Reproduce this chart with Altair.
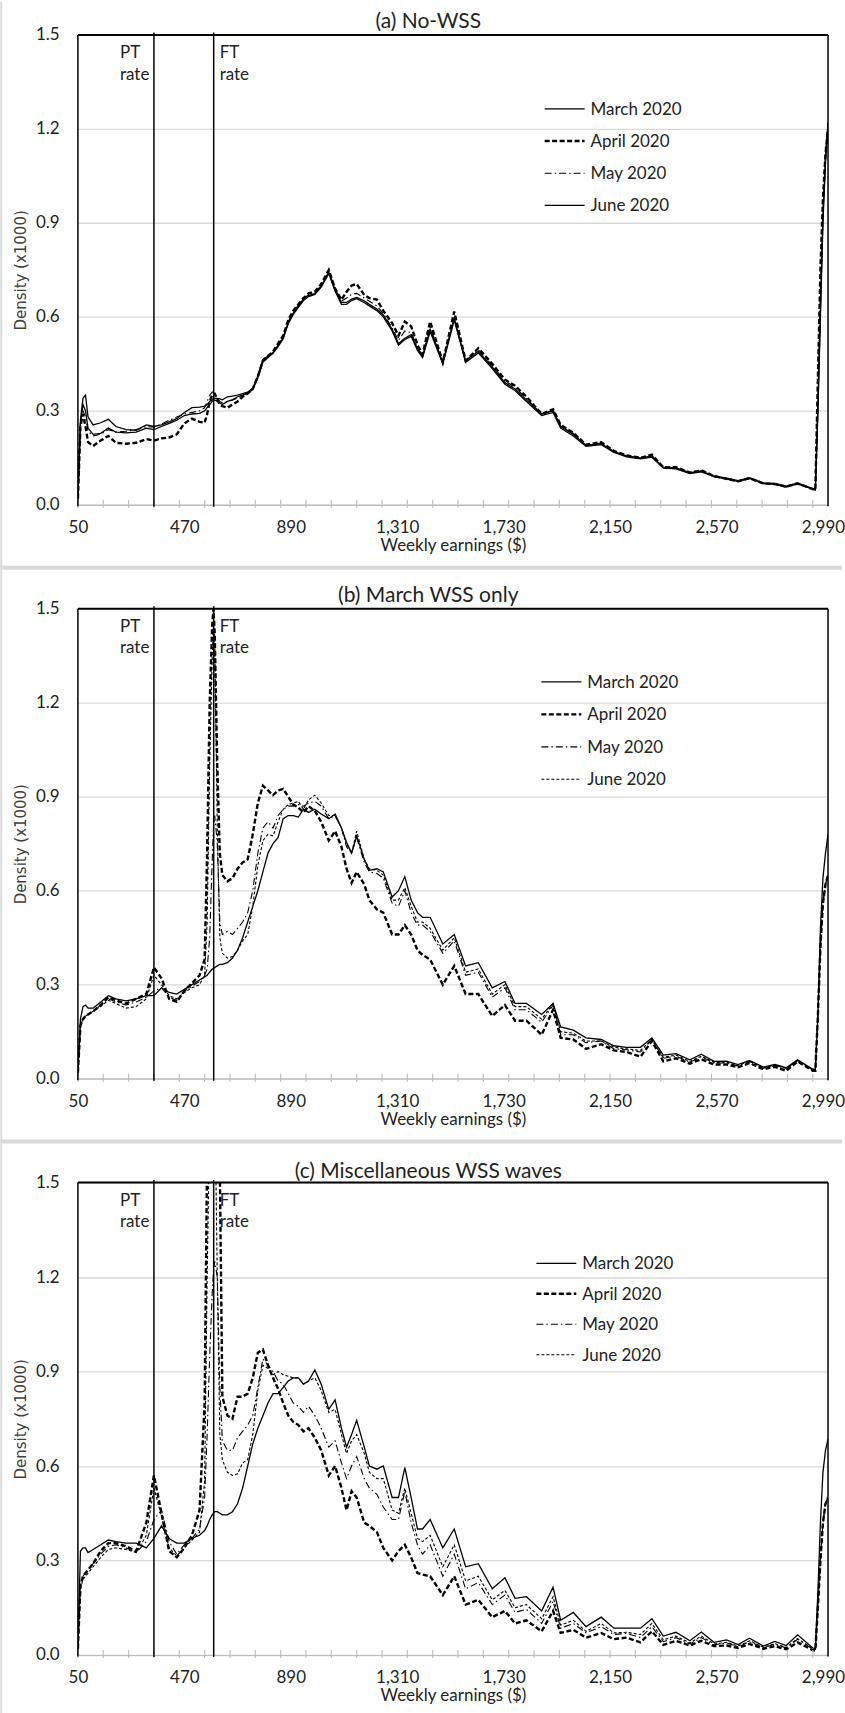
import altair as alt
import pandas as pd

# ---------------- data ----------------
SERIES = ["March 2020", "April 2020", "May 2020", "June 2020"]
PANEL_TITLES = ["(a) No-WSS", "(b) March WSS only", "(c) Miscellaneous WSS waves"]

EARN = [50, 60, 70, 80, 90, 110, 140, 170, 200, 240,
        280, 320, 350, 380, 410, 440, 470, 500, 530, 550,
        560, 570, 580, 585, 590, 600, 610, 620, 640, 660, 680,
        700, 720, 740, 760, 780, 800, 820, 840, 860, 880,
        900, 920, 940, 960, 985, 1010, 1040, 1065, 1090, 1110,
        1130, 1150, 1180, 1200, 1230, 1255, 1290, 1315, 1340, 1365,
        1390, 1410, 1440, 1490, 1535, 1580, 1630, 1685, 1735, 1775,
        1820, 1880, 1925, 1955, 2005, 2055, 2115, 2165, 2215, 2270,
        2315, 2360, 2410, 2465, 2510, 2560, 2610, 2655, 2700, 2755,
        2800, 2845, 2890, 2950, 2960, 2970, 2980, 2990, 3000, 3010]

# Panel (a) No-WSS
A_MAR = [0.02, 0.27, 0.34, 0.35, 0.28, 0.255, 0.262, 0.273, 0.25, 0.24,
         0.238, 0.255, 0.25, 0.255, 0.265, 0.275, 0.295, 0.31, 0.312, 0.315,
         0.32, 0.33, 0.335, 0.34, 0.34, 0.34, 0.338, 0.335, 0.345, 0.347, 0.35,
         0.355, 0.36, 0.372, 0.412, 0.464, 0.475, 0.486, 0.509, 0.532, 0.583,
         0.612, 0.634, 0.657, 0.668, 0.674, 0.697, 0.742, 0.686, 0.646, 0.646,
         0.657, 0.662, 0.651, 0.64, 0.625, 0.606, 0.56, 0.515, 0.532, 0.543,
         0.498, 0.475, 0.56, 0.455, 0.595, 0.46, 0.49, 0.44, 0.39, 0.37,
         0.335, 0.29, 0.3, 0.25, 0.225, 0.19, 0.195, 0.17, 0.156, 0.15,
         0.155, 0.12, 0.118, 0.103, 0.108, 0.092, 0.085, 0.077, 0.087, 0.07,
         0.068, 0.06, 0.07, 0.052, 0.05, 0.3, 0.6, 0.9, 1.1, 1.22]
A_APR = [0.02, 0.25, 0.29, 0.25, 0.2, 0.188, 0.205, 0.22, 0.198, 0.195,
         0.198, 0.21, 0.205, 0.212, 0.215, 0.225, 0.26, 0.275, 0.265, 0.262,
         0.29, 0.33, 0.35, 0.355, 0.355, 0.335, 0.32, 0.315, 0.31, 0.32, 0.33,
         0.345, 0.355, 0.37, 0.41, 0.46, 0.475, 0.49, 0.515, 0.54, 0.59,
         0.62, 0.64, 0.66, 0.675, 0.68, 0.705, 0.75, 0.69, 0.655, 0.68,
         0.7, 0.705, 0.67, 0.66, 0.655, 0.62, 0.58, 0.54, 0.585, 0.57,
         0.51, 0.48, 0.585, 0.455, 0.617, 0.46, 0.5, 0.45, 0.4, 0.38,
         0.345, 0.29, 0.305, 0.255, 0.23, 0.192, 0.2, 0.172, 0.158, 0.15,
         0.16, 0.12, 0.12, 0.103, 0.11, 0.092, 0.083, 0.075, 0.085, 0.068,
         0.066, 0.058, 0.068, 0.05, 0.048, 0.4, 0.75, 0.98, 1.12, 1.2]
A_MAY = [0.02, 0.26, 0.3, 0.28, 0.235, 0.22, 0.225, 0.24, 0.232, 0.235,
         0.24, 0.25, 0.248, 0.258, 0.27, 0.28, 0.29, 0.295, 0.3, 0.31,
         0.33, 0.35, 0.36, 0.36, 0.355, 0.34, 0.33, 0.325, 0.33, 0.335, 0.34,
         0.35, 0.358, 0.37, 0.405, 0.46, 0.472, 0.485, 0.51, 0.535, 0.585,
         0.615, 0.638, 0.66, 0.67, 0.678, 0.7, 0.745, 0.69, 0.65, 0.66,
         0.672, 0.675, 0.66, 0.65, 0.635, 0.61, 0.565, 0.525, 0.555, 0.55,
         0.5, 0.478, 0.57, 0.452, 0.6, 0.46, 0.495, 0.445, 0.395, 0.375,
         0.34, 0.29, 0.302, 0.252, 0.228, 0.19, 0.198, 0.17, 0.156, 0.148,
         0.158, 0.118, 0.118, 0.1, 0.108, 0.09, 0.083, 0.075, 0.085, 0.068,
         0.066, 0.058, 0.068, 0.05, 0.048, 0.35, 0.7, 0.95, 1.12, 1.21]
A_JUN = [0.02, 0.26, 0.32, 0.3, 0.245, 0.225, 0.228, 0.245, 0.232, 0.23,
         0.232, 0.245, 0.24, 0.25, 0.26, 0.27, 0.285, 0.29, 0.292, 0.3,
         0.31, 0.32, 0.33, 0.333, 0.335, 0.33, 0.325, 0.32, 0.33, 0.335, 0.345,
         0.35, 0.356, 0.368, 0.405, 0.455, 0.47, 0.484, 0.505, 0.53, 0.578,
         0.608, 0.63, 0.652, 0.665, 0.672, 0.695, 0.738, 0.682, 0.64, 0.64,
         0.652, 0.658, 0.645, 0.635, 0.62, 0.6, 0.555, 0.51, 0.528, 0.538,
         0.493, 0.47, 0.553, 0.45, 0.59, 0.455, 0.485, 0.435, 0.385, 0.365,
         0.33, 0.285, 0.295, 0.245, 0.22, 0.187, 0.192, 0.167, 0.153, 0.147,
         0.152, 0.117, 0.115, 0.1, 0.105, 0.09, 0.082, 0.075, 0.084, 0.068,
         0.066, 0.057, 0.067, 0.05, 0.047, 0.3, 0.62, 0.92, 1.1, 1.22]

# Panel (b) March WSS only
B_MAR = [0.02, 0.19, 0.23, 0.235, 0.225, 0.225, 0.245, 0.265, 0.255, 0.248,
         0.255, 0.265, 0.265, 0.29, 0.275, 0.27, 0.285, 0.3, 0.315, 0.325,
         0.33, 0.34, 0.35, 0.352, 0.355, 0.36, 0.365, 0.365, 0.37, 0.385, 0.41,
         0.45, 0.5, 0.55, 0.6, 0.66, 0.72, 0.75, 0.77, 0.83, 0.84,
         0.84, 0.835, 0.86, 0.85, 0.86, 0.845, 0.83, 0.845, 0.8, 0.755,
         0.72, 0.775, 0.7, 0.665, 0.67, 0.66, 0.58, 0.6, 0.645, 0.57,
         0.53, 0.515, 0.515, 0.43, 0.46, 0.36, 0.37, 0.29, 0.31, 0.24,
         0.24, 0.205, 0.24, 0.165, 0.155, 0.13, 0.125, 0.105, 0.1, 0.1,
         0.13, 0.075, 0.08, 0.06, 0.078, 0.055, 0.056, 0.045, 0.058, 0.037,
         0.045, 0.035, 0.06, 0.03, 0.03, 0.2, 0.48, 0.64, 0.72, 0.78]
B_APR = [0.02, 0.17, 0.19, 0.2, 0.205, 0.215, 0.235, 0.26, 0.25, 0.24,
         0.255, 0.27, 0.355, 0.32, 0.255, 0.245, 0.28, 0.305, 0.33, 0.38,
         0.72, 1.2, 1.45, 1.5, 1.42, 1.0, 0.72, 0.65, 0.63, 0.64, 0.67,
         0.69, 0.7, 0.78, 0.88, 0.935, 0.92, 0.905, 0.92, 0.925, 0.9,
         0.875, 0.865, 0.85, 0.87, 0.855, 0.82, 0.76, 0.79, 0.74, 0.67,
         0.625, 0.66, 0.62, 0.57, 0.54, 0.53, 0.46, 0.46, 0.49, 0.46,
         0.41, 0.395, 0.38, 0.3, 0.36, 0.27, 0.27, 0.2, 0.235, 0.185,
         0.185, 0.14, 0.22, 0.13, 0.125, 0.095, 0.11, 0.09, 0.085, 0.07,
         0.12, 0.055, 0.065, 0.048, 0.062, 0.045, 0.045, 0.036, 0.05, 0.03,
         0.038, 0.025, 0.055, 0.025, 0.025, 0.2, 0.42, 0.56, 0.62, 0.65]
B_MAY = [0.02, 0.17, 0.19, 0.2, 0.205, 0.215, 0.235, 0.255, 0.245, 0.235,
         0.245, 0.26, 0.28, 0.29, 0.26, 0.25, 0.28, 0.295, 0.31, 0.33,
         0.35, 0.45, 0.7, 0.8, 0.84, 0.75, 0.5, 0.46, 0.47, 0.46, 0.48,
         0.5, 0.53, 0.6, 0.72, 0.8, 0.82, 0.8, 0.84, 0.86, 0.87,
         0.87, 0.875, 0.87, 0.88, 0.885, 0.87, 0.83, 0.84, 0.8, 0.74,
         0.72, 0.77, 0.69, 0.66, 0.655, 0.64, 0.56, 0.55, 0.6, 0.53,
         0.49, 0.49, 0.47, 0.4, 0.44, 0.33, 0.34, 0.26, 0.29, 0.22,
         0.22, 0.18, 0.235, 0.14, 0.14, 0.115, 0.12, 0.095, 0.092, 0.085,
         0.125, 0.065, 0.072, 0.052, 0.07, 0.05, 0.05, 0.04, 0.055, 0.033,
         0.042, 0.03, 0.058, 0.028, 0.028, 0.2, 0.42, 0.56, 0.62, 0.65]
B_JUN = [0.02, 0.17, 0.19, 0.2, 0.205, 0.215, 0.23, 0.25, 0.24, 0.225,
         0.23, 0.255, 0.33, 0.3, 0.265, 0.255, 0.275, 0.29, 0.3, 0.33,
         0.5, 1.0, 1.35, 1.45, 1.4, 0.8, 0.45, 0.4, 0.385, 0.39, 0.41,
         0.44, 0.46, 0.55, 0.68, 0.76, 0.78, 0.775, 0.82, 0.86, 0.875,
         0.88, 0.885, 0.86, 0.89, 0.905, 0.88, 0.84, 0.84, 0.8, 0.75,
         0.72, 0.79, 0.7, 0.67, 0.665, 0.65, 0.57, 0.57, 0.61, 0.55,
         0.5, 0.5, 0.48, 0.41, 0.45, 0.34, 0.35, 0.27, 0.3, 0.23,
         0.23, 0.19, 0.24, 0.15, 0.145, 0.12, 0.12, 0.1, 0.095, 0.09,
         0.125, 0.068, 0.075, 0.055, 0.072, 0.052, 0.052, 0.042, 0.056, 0.035,
         0.043, 0.032, 0.058, 0.028, 0.028, 0.2, 0.42, 0.56, 0.62, 0.65]

# Panel (c) Miscellaneous WSS waves
C_MAR = [0.02, 0.33, 0.34, 0.34, 0.325, 0.335, 0.35, 0.365, 0.36, 0.355,
         0.355, 0.34, 0.37, 0.41, 0.37, 0.355, 0.355, 0.37, 0.38, 0.395,
         0.41, 0.43, 0.445, 0.45, 0.455, 0.455, 0.45, 0.445, 0.445, 0.455, 0.48,
         0.53, 0.6, 0.67, 0.72, 0.76, 0.8, 0.83, 0.83, 0.85, 0.87,
         0.88, 0.88, 0.86, 0.87, 0.905, 0.86, 0.78, 0.81, 0.72, 0.66,
         0.7, 0.745, 0.66, 0.6, 0.59, 0.6, 0.5, 0.5, 0.595, 0.5,
         0.4, 0.4, 0.43, 0.34, 0.4, 0.28, 0.29, 0.21, 0.245, 0.18,
         0.185, 0.14, 0.215, 0.11, 0.135, 0.09, 0.12, 0.085, 0.085, 0.085,
         0.115, 0.06, 0.072, 0.045, 0.073, 0.04, 0.048, 0.033, 0.053, 0.028,
         0.043, 0.03, 0.064, 0.022, 0.02, 0.2, 0.42, 0.58, 0.65, 0.685]
C_APR = [0.02, 0.22, 0.25, 0.26, 0.27, 0.29, 0.33, 0.355, 0.355, 0.345,
         0.33, 0.42, 0.57, 0.45, 0.33, 0.31, 0.34, 0.38, 0.46, 0.8,
         1.6, 2.0, 2.2, 2.2, 2.1, 2.0, 1.55, 0.82, 0.76, 0.75, 0.82,
         0.82, 0.83, 0.88, 0.96, 0.97, 0.92, 0.88, 0.845, 0.8, 0.76,
         0.74, 0.73, 0.71, 0.72, 0.69, 0.65, 0.57, 0.6, 0.53, 0.46,
         0.52, 0.5, 0.42, 0.41, 0.39, 0.34, 0.3, 0.33, 0.35, 0.31,
         0.26, 0.255, 0.25, 0.19, 0.25, 0.16, 0.175, 0.12, 0.14, 0.1,
         0.11, 0.075, 0.14, 0.07, 0.08, 0.055, 0.07, 0.05, 0.055, 0.04,
         0.075, 0.032, 0.045, 0.03, 0.045, 0.028, 0.03, 0.022, 0.035, 0.02,
         0.028, 0.018, 0.04, 0.015, 0.015, 0.15, 0.3, 0.42, 0.48, 0.5]
C_MAY = [0.02, 0.22, 0.25, 0.26, 0.27, 0.29, 0.32, 0.345, 0.35, 0.34,
         0.325, 0.36, 0.43, 0.46, 0.36, 0.32, 0.35, 0.37, 0.4, 0.5,
         0.7, 0.95, 1.15, 1.22, 1.25, 1.2, 0.85, 0.68, 0.65, 0.65, 0.69,
         0.71, 0.73, 0.76, 0.85, 0.94, 0.92, 0.9, 0.87, 0.86, 0.83,
         0.8, 0.79, 0.77, 0.79, 0.76, 0.72, 0.66, 0.68, 0.61, 0.56,
         0.6, 0.63, 0.56, 0.53, 0.51, 0.47, 0.43, 0.43, 0.52, 0.42,
         0.35, 0.32, 0.35, 0.25, 0.32, 0.21, 0.23, 0.16, 0.19, 0.135,
         0.145, 0.1, 0.17, 0.085, 0.1, 0.07, 0.09, 0.065, 0.068, 0.055,
         0.09, 0.042, 0.055, 0.035, 0.055, 0.032, 0.038, 0.026, 0.042, 0.023,
         0.034, 0.022, 0.05, 0.018, 0.017, 0.15, 0.3, 0.42, 0.48, 0.5]
C_JUN = [0.02, 0.21, 0.24, 0.25, 0.26, 0.28, 0.31, 0.335, 0.34, 0.335,
         0.325, 0.38, 0.53, 0.44, 0.34, 0.315, 0.34, 0.365, 0.39, 0.55,
         1.2, 1.7, 1.9, 1.9, 1.8, 1.2, 0.7, 0.62, 0.58, 0.57, 0.575,
         0.61, 0.62, 0.7, 0.84, 0.92, 0.91, 0.89, 0.9, 0.89, 0.885,
         0.88, 0.88, 0.86, 0.87, 0.88, 0.84, 0.77, 0.78, 0.7, 0.64,
         0.68, 0.7, 0.64, 0.58, 0.56, 0.56, 0.46, 0.45, 0.53, 0.45,
         0.37, 0.36, 0.38, 0.28, 0.35, 0.235, 0.25, 0.175, 0.205, 0.15,
         0.16, 0.115, 0.185, 0.095, 0.11, 0.075, 0.1, 0.07, 0.072, 0.065,
         0.1, 0.048, 0.06, 0.038, 0.06, 0.035, 0.04, 0.028, 0.045, 0.025,
         0.036, 0.024, 0.052, 0.02, 0.018, 0.15, 0.3, 0.42, 0.48, 0.5]

PANEL_DATA = [[A_MAR, A_APR, A_MAY, A_JUN],
              [B_MAR, B_APR, B_MAY, B_JUN],
              [C_MAR, C_APR, C_MAY, C_JUN]]

RATE_VALUES = [350, 585.8]           # PT and FT wage subsidy rates
RATE_LABELS = ["PT\nrate", "FT\nrate"]
X_LABEL_VALUES = [50, 470, 890, 1310, 1730, 2150, 2570, 2990]
X_MINOR_TICKS = list(range(50, 3000, 100))
Y_TICKS = [0.0, 0.3, 0.6, 0.9, 1.2, 1.5]

for group in PANEL_DATA:
    for s in group:
        assert len(s) == len(EARN), len(s)

# ---------------- style / layout ----------------
FONT = "Lato"
TXT = "#222222"
W = 751
HEIGHTS = [470.4, 470.4, 472.9]
SPACING = 103.5
LEFT = 77.7
TOP = 33.9
SEP_GRAY = "#d9d9d9"
AXIS_GRAY = "#bfbfbf"
X_TITLE = "Weekly earnings ($)"
Y_TITLE = "Density (x1000)"

STYLE_A = {
    "March 2020": dict(dash=None, width=1.3),
    "April 2020": dict(dash=[5, 2.5], width=2.4),
    "May 2020": dict(dash=[7, 3, 1.5, 3], width=1.1),
    "June 2020": dict(dash=None, width=1.3),
}
STYLE_BC = dict(STYLE_A)
STYLE_BC["June 2020"] = dict(dash=[3, 2], width=1.1)

PANEL_LAYOUT = [
    dict(style=STYLE_A, lx=467.3, ly=74.0, gap=32.2, ty=-14.0),
    dict(style=STYLE_BC, lx=464.0, ly=73.2, gap=32.5, ty=-14.3),
    dict(style=STYLE_BC, lx=459.0, ly=80.8, gap=30.5, ty=-11.9),
]

xscale = alt.Scale(domain=[50, 3010], nice=False, zero=False)
yscale = alt.Scale(domain=[0, 1.5], nice=False, zero=False)


def make_panel(i):
    h = HEIGHTS[i]
    lay = PANEL_LAYOUT[i]
    style = lay["style"]
    rows = []
    for name, vals in zip(SERIES, PANEL_DATA[i]):
        for e, v in zip(EARN, vals):
            rows.append({"earn": e, "dens": v, "series": name})
    df = pd.DataFrame(rows)

    xaxis = alt.Axis(
        values=X_LABEL_VALUES, format=",d",
        labelOverlap=False, labelFlush=False, grid=False,
        domain=True, domainColor=AXIS_GRAY, domainWidth=1.2,
        ticks=False, tickSize=0,
        labelPadding=15, labelFont=FONT, labelFontSize=17, labelColor=TXT,
        titleFont=FONT, titleFontSize=17, titleColor=TXT, titleFontWeight="normal",
        titlePadding=2,
    )
    yaxis = alt.Axis(
        values=Y_TICKS, format=".1f", grid=True, gridColor="#d9d9d9", gridWidth=1.3,
        domain=False, ticks=False, tickSize=0, labelPadding=18.7,
        labelFont=FONT, labelFontSize=17, labelColor=TXT,
        titleFont="DejaVu Sans", titleFontSize=15, titleColor="#404040",
        titleFontWeight="normal", titleX=-57.7, titleY=h / 2, titleAngle=270,
        titleAlign="center", titleBaseline="middle",
    )
    x = alt.X("earn:Q", scale=xscale, axis=xaxis, title=X_TITLE)
    y = alt.Y("dens:Q", scale=yscale, axis=yaxis, title=Y_TITLE)

    layers = []
    for name in SERIES:
        st = style[name]
        props = dict(color="black", strokeWidth=st["width"], clip=True, interpolate="linear")
        if st["dash"]:
            props["strokeDash"] = st["dash"]
        layers.append(
            alt.Chart(df).transform_filter(alt.datum.series == name)
            .mark_line(**props).encode(x=x, y=y)
        )

    one = pd.DataFrame({"k": [0]})
    # minor x ticks (grey, crossing the axis line as in the original)
    ticks_df = pd.DataFrame({"tick": X_MINOR_TICKS})
    layers.append(alt.Chart(ticks_df).mark_rule(color=AXIS_GRAY, strokeWidth=1.2).encode(
        x=alt.X("tick:Q", scale=xscale, axis=xaxis, title=X_TITLE),
        y=alt.value(h - 5), y2=alt.value(h + 3)))

    # plot frame: black top, left, right
    layers.append(alt.Chart(one).mark_rule(color="black", strokeWidth=2)
                  .encode(y=alt.YDatum(1.5, scale=yscale, axis=yaxis, title=Y_TITLE)))
    for xv in (50, 3010):
        layers.append(alt.Chart(one).mark_rule(color="black", strokeWidth=1.5)
                      .encode(x=alt.XDatum(xv, scale=xscale, axis=xaxis, title=X_TITLE),
                              y=alt.value(0), y2=alt.value(h + 1.5)))

    rates = pd.DataFrame({"rate": RATE_VALUES, "label": RATE_LABELS})
    xr = alt.X("rate:Q", scale=xscale, axis=xaxis, title=X_TITLE)
    layers.append(alt.Chart(rates).mark_rule(color="black", strokeWidth=1.5)
                  .encode(x=xr, y=alt.value(-2.5), y2=alt.value(h + 2)))
    for idx, dx in ((0, -34), (1, 6)):
        layers.append(
            alt.Chart(rates.iloc[[idx]]).mark_text(
                align="left", baseline="alphabetic", dx=dx, font=FONT, fontSize=17,
                color=TXT, lineBreak="\n", lineHeight=21.5)
            .encode(x=xr, y=alt.value(23.2), text="label:N"))

    # legend (drawn inside the plot, as in the original)
    for k, name in enumerate(SERIES):
        st = style[name]
        rowy = lay["ly"] + k * lay["gap"]
        props = dict(color="black", strokeWidth=st["width"])
        if st["dash"]:
            props["strokeDash"] = st["dash"]
        ldf = pd.DataFrame({"s": [name]})
        layers.append(alt.Chart(ldf).mark_rule(**props).encode(
            x=alt.value(lay["lx"]), x2=alt.value(lay["lx"] + 40), y=alt.value(rowy)))
        layers.append(alt.Chart(ldf).mark_text(
            align="left", baseline="alphabetic", font=FONT, fontSize=17, color=TXT)
            .encode(x=alt.value(lay["lx"] + 46), y=alt.value(rowy + 6.1), text="s:N"))

    # panel title
    tdf = pd.DataFrame({"t": [PANEL_TITLES[i]]})
    layers.append(alt.Chart(tdf).mark_text(
        align="center", baseline="alphabetic", font=FONT, fontSize=21, color=TXT)
        .encode(x=alt.value(350.8), y=alt.value(lay["ty"] + 7.0), text="t:N"))

    # chart-area borders (light grey)
    if i < 2:
        layers.append(alt.Chart(one).mark_rule(color=SEP_GRAY, strokeWidth=4).encode(
            x=alt.value(-LEFT + 2), x2=alt.value(765), y=alt.value(h + 63)))
    top_edge = -TOP + 1 if i == 0 else -42
    bot_edge = h + 63 if i < 2 else h + 58
    layers.append(alt.Chart(one).mark_rule(color=SEP_GRAY, strokeWidth=2).encode(
        x=alt.value(-LEFT + 1), y=alt.value(top_edge), y2=alt.value(bot_edge)))

    return alt.layer(*layers).properties(width=W, height=h)


chart = alt.vconcat(*[make_panel(i) for i in range(3)], spacing=SPACING, bounds="flush")
chart = chart.properties(
    padding={"left": 0, "top": 0, "right": 0, "bottom": 0},
    background="white",
).configure_view(stroke=None)

chart.save("out.html", embed_options={"renderer": "svg", "actions": False})
